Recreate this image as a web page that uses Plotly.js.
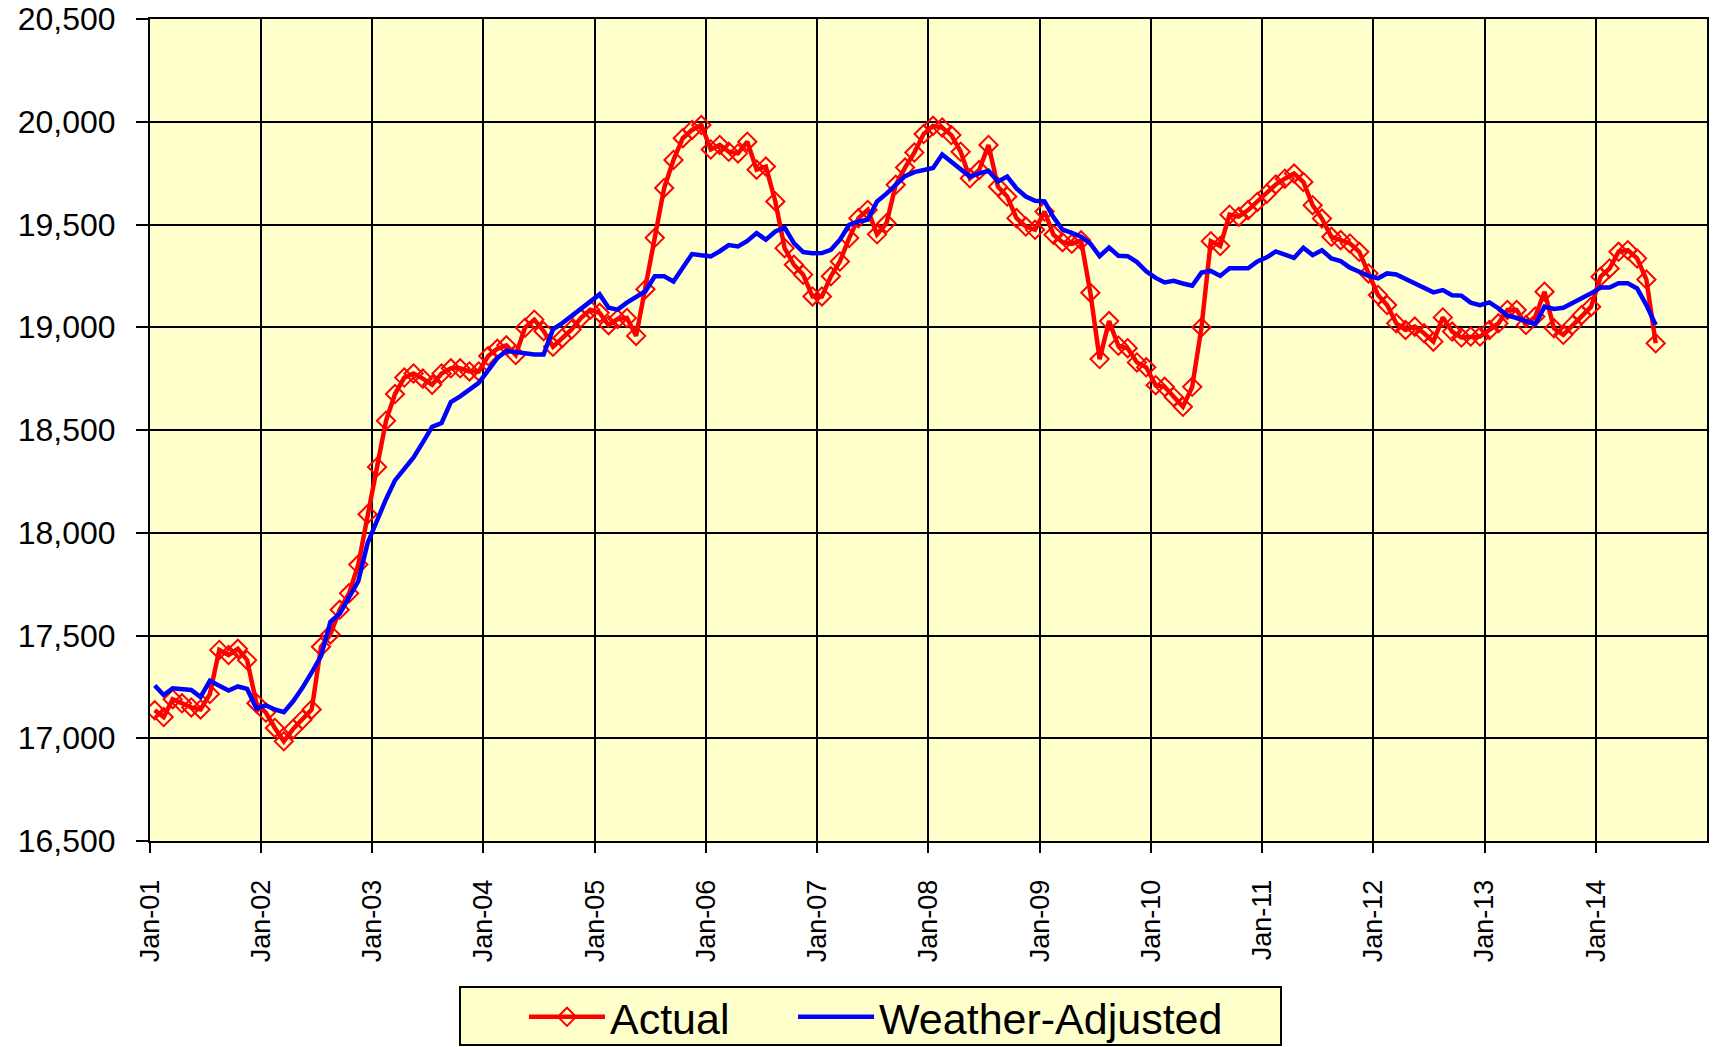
<!DOCTYPE html>
<html>
<head>
<meta charset="utf-8">
<script src="https://cdn.plot.ly/plotly-3.0.1.min.js"></script>
<style>
  html, body { margin: 0; padding: 0; background: #ffffff; }
  #chart { width: 1714px; height: 1047px; }
</style>
</head>
<body>
<div id="chart"></div>
<script>
// Monthly series, Jan-2001 through Jul-2014
const startYear = 2001;
const startMonth = 1;

const actual = [
  17136, 17103, 17190, 17170, 17150, 17140, 17215, 17430, 17405, 17435, 17380, 17170,
  17125, 17050, 16985, 17045, 17090, 17140, 17445, 17505, 17625, 17705, 17845, 18090,
  18320, 18545, 18675, 18755, 18775, 18750, 18720, 18775, 18800, 18800, 18785, 18785,
  18860, 18895, 18912, 18865, 18998, 19037, 18981, 18905, 18948, 18989, 19045, 19085,
  19070, 19010, 19040, 19045, 18958, 19185, 19435, 19678, 19814, 19920, 19960, 19984,
  19865, 19887, 19854, 19846, 19903, 19767, 19782, 19612, 19385, 19304, 19256, 19150,
  19150, 19248, 19320, 19434, 19531, 19571, 19452, 19506, 19693, 19777, 19850, 19940,
  19980, 19972, 19935, 19854, 19725, 19765, 19887, 19684, 19636, 19531, 19490, 19474,
  19563, 19450, 19414, 19406, 19423, 19168, 18845, 19030, 18910, 18898, 18829, 18805,
  18718, 18710, 18661, 18613, 18710, 19000, 19419, 19395, 19548, 19538, 19570, 19610,
  19650, 19695, 19723, 19748, 19707, 19594, 19529, 19440, 19424, 19408, 19367, 19262,
  19157, 19108, 19019, 18987, 19003, 18971, 18930, 19048, 18979, 18950, 18955, 18955,
  18987, 19019, 19084, 19084, 19011, 19052, 19173, 18995, 18963, 19011, 19060, 19100,
  19246, 19286, 19367, 19375, 19335, 19232, 18922
];

const weatherAdjusted = [
  17257, 17210, 17243, 17238, 17235, 17200, 17280, 17255, 17232, 17252, 17240, 17145,
  17160, 17140, 17127, 17180, 17245, 17320, 17400, 17567, 17606, 17685, 17764, 17949,
  18061, 18163, 18255, 18310, 18367, 18440, 18515, 18534, 18636, 18664, 18695, 18729,
  18790, 18850, 18885, 18880, 18870, 18868, 18867, 18990, 19020, 19055, 19090, 19125,
  19160, 19095, 19086, 19120, 19150, 19175, 19248, 19248, 19223, 19290, 19356, 19350,
  19345, 19370, 19400, 19393, 19420, 19458, 19426, 19466, 19485, 19409, 19366, 19360,
  19361, 19377, 19426, 19498, 19515, 19523, 19612, 19650, 19695, 19735, 19755, 19765,
  19775, 19841, 19806, 19770, 19733, 19749, 19761, 19709, 19733, 19676, 19636, 19615,
  19612, 19535, 19475, 19459, 19441, 19407, 19346, 19388, 19348, 19346, 19317, 19272,
  19240, 19218, 19226, 19213, 19202, 19266, 19274, 19250, 19287, 19287, 19287, 19320,
  19340, 19369, 19355, 19338, 19387, 19351, 19375, 19335, 19322, 19290, 19270, 19250,
  19238, 19262, 19257, 19235, 19214, 19195, 19170, 19181, 19156, 19154, 19120, 19108,
  19121, 19092, 19057, 19045, 19030, 19015, 19100, 19089, 19095, 19117, 19144, 19165,
  19193, 19193, 19214, 19214, 19189, 19108, 19011
];

const tickYears = [2001, 2002, 2003, 2004, 2005, 2006, 2007, 2008, 2009, 2010, 2011, 2012, 2013, 2014];
const tickLabels = ["Jan-01", "Jan-02", "Jan-03", "Jan-04", "Jan-05", "Jan-06", "Jan-07",
                    "Jan-08", "Jan-09", "Jan-10", "Jan-11", "Jan-12", "Jan-13", "Jan-14"];
const seriesNames = ["Actual", "Weather-Adjusted"];

// month dates for the category axis
function pad(n) { return (n < 10 ? "0" : "") + n; }
const months = actual.map(function (_, i) {
  const t = (startYear * 12 + (startMonth - 1)) + i;
  return Math.floor(t / 12) + "-" + pad((t % 12) + 1) + "-01";
});
const tickVals = tickYears.map(function (y) { return y + "-01-01"; });

const FONT = "Liberation Sans, Arial, sans-serif";

const traces = [
  {
    type: "scatter",
    mode: "lines+markers",
    name: seriesNames[0],
    legend: "legend",
    x: months,
    y: actual,
    xperiod: "M1",
    xperiodalignment: "middle",
    line: { color: "#FF0000", width: 4.5 },
    marker: { symbol: "diamond-open", size: 14, color: "#FF0000", line: { color: "#FF0000", width: 2 } }
  },
  {
    type: "scatter",
    mode: "lines",
    name: seriesNames[1],
    legend: "legend2",
    x: months,
    y: weatherAdjusted,
    xperiod: "M1",
    xperiodalignment: "middle",
    line: { color: "#0000FF", width: 4.5 }
  }
];

const legendCommon = {
  orientation: "h",
  xanchor: "left",
  y: -0.172,
  yanchor: "top",
  bgcolor: "rgba(0,0,0,0)",
  borderwidth: 0,
  font: { family: FONT, size: 43, color: "#000000" },
  itemwidth: 76
};

const layout = {
  width: 1714,
  height: 1047,
  margin: { l: 150, r: 7, t: 19, b: 206, autoexpand: false },
  paper_bgcolor: "#FFFFFF",
  plot_bgcolor: "#FFFFCC",
  font: { family: FONT, color: "#000000" },
  showlegend: true,
  legend: Object.assign({}, legendCommon, { x: 0.2402 }),
  legend2: Object.assign({}, legendCommon, { x: 0.4130 }),
  shapes: [
    {
      type: "rect",
      xref: "paper", yref: "paper",
      x0: 0.1991, x1: 0.7264,
      y0: -0.2482, y1: -0.1776,
      fillcolor: "#FFFFCC",
      line: { color: "#000000", width: 2 },
      layer: "above"
    }
  ],
  xaxis: {
    type: "date",
    range: ["2001-01-01", "2015-01-01"],
    tickmode: "array",
    tickvals: tickVals,
    ticktext: tickLabels,
    tickangle: -90,
    ticks: "outside",
    ticklen: 10,
    tickwidth: 2,
    tickcolor: "#000000",
    ticklabelstandoff: 16,
    tickfont: { family: FONT, size: 27, color: "#000000" },
    showgrid: true,
    gridcolor: "#000000",
    gridwidth: 2,
    showline: true,
    linecolor: "#000000",
    linewidth: 2,
    mirror: true,
    zeroline: false,
    automargin: false
  },
  yaxis: {
    range: [16500, 20500],
    dtick: 500,
    tick0: 16500,
    tickformat: ",d",
    ticks: "outside",
    ticklen: 12,
    tickwidth: 2,
    tickcolor: "#000000",
    ticklabelstandoff: 14,
    tickfont: { family: FONT, size: 32, color: "#000000" },
    showgrid: true,
    gridcolor: "#000000",
    gridwidth: 2,
    showline: true,
    linecolor: "#000000",
    linewidth: 2,
    mirror: true,
    zeroline: false,
    automargin: false
  }
};

Plotly.newPlot("chart", traces, layout, { displayModeBar: false, staticPlot: true });
</script>
</body>
</html>
